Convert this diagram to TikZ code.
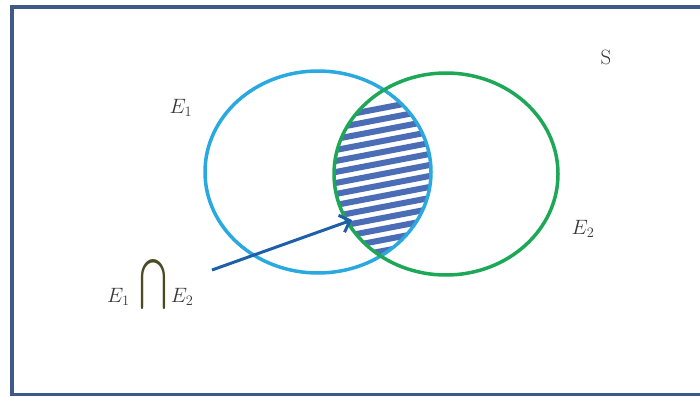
\documentclass[tikz,border=0pt]{standalone}
\usetikzlibrary{arrows.meta}
\definecolor{frameC}{HTML}{3F5A86}
\definecolor{blueC}{HTML}{2AA9E0}
\definecolor{greenC}{HTML}{1DA858}
\definecolor{hatchC}{HTML}{4A6DB5}
\definecolor{arrowC}{HTML}{1F5FA8}
\definecolor{textC}{HTML}{383838}
\definecolor{capC}{HTML}{4A4A25}
\begin{document}
\begin{tikzpicture}[x=1pt,y=-1pt,
  lbl/.style={text=textC, font=\huge, inner sep=0pt},
  setline/.style={line width=3.5pt},
  stripe/.style={hatchC, line width=6pt}]
\useasboundingbox (0,0) rectangle (700,396);
\fill[white] (0,0) rectangle (700,396);
\draw[frameC, line width=3.5pt] (715,7) -- (12,7) -- (12,394.5) -- (715,394.5);
% hatching of the intersection
\begin{scope}
  \clip (318,172) ellipse [x radius=113, y radius=101];
  \clip (446,174) ellipse [x radius=112, y radius=101];
  \foreach \i in {0,...,13}
    \draw[stripe] (320,{120+11*\i}) -- (440,{97+11*\i});
\end{scope}
\draw[blueC, setline] (318,172) ellipse [x radius=113, y radius=101];
\draw[greenC, setline] (446,174) ellipse [x radius=112, y radius=101];
% labels
\node[lbl] (S) at (606,57) {S};
\node[lbl] (e1) at (181,108) {$E_1$};
\node[lbl] (e2) at (583,229) {$E_2$};
\node[lbl, anchor=base west] (cap) at (107,302)
  {$E_1$\hspace{10pt}\raisebox{-9pt}{\textcolor{capC}{\resizebox{28pt}{51pt}{$\bigcap$}}}\hspace{3pt}$E_2$};
\coordinate (tail) at (212,270);
\coordinate (tip) at (352,220);
\draw[arrowC, line width=3pt, -{Straight Barb[length=9pt,width=18pt]}] (tail) -- (tip);
\end{tikzpicture}
\end{document}
